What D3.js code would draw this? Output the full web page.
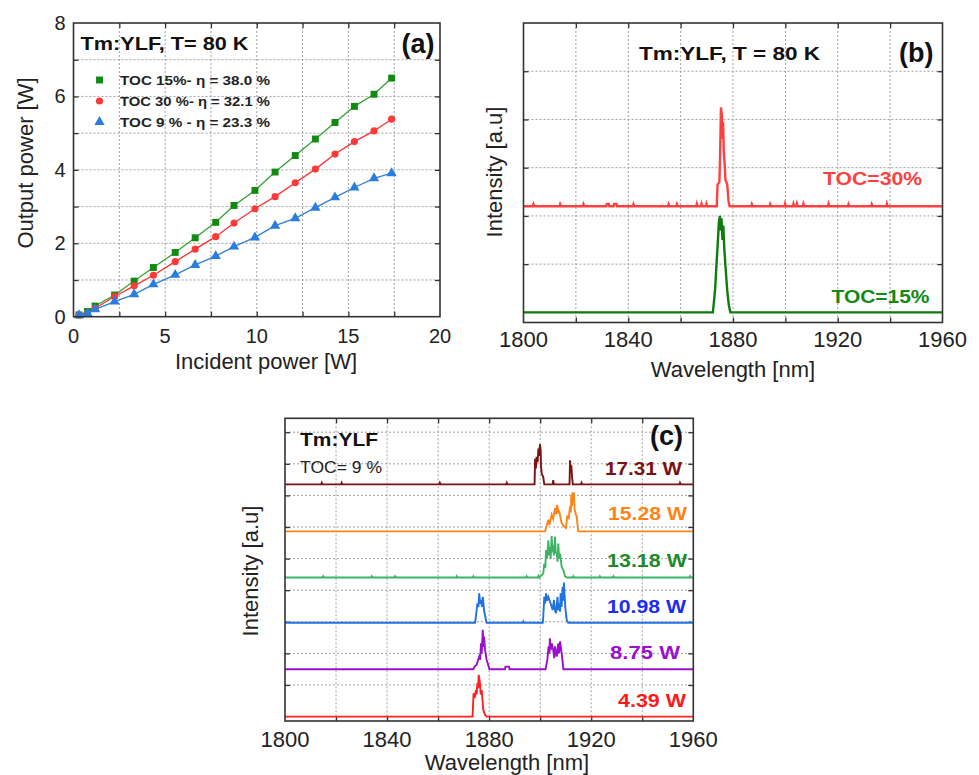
<!DOCTYPE html>
<html>
<head>
<meta charset="utf-8">
<script src="https://cdn.jsdelivr.net/npm/d3@7"></script>
<style>
  body { margin: 0; background: #fff; }
  svg text { font-family: "Liberation Sans", Arial, sans-serif; }
</style>
</head>
<body>
<svg id="fig" width="979" height="775"></svg>
<script>
// ---- panel (a): output power vs incident power
var incident = [0.3, 0.76, 1.18, 2.24, 3.31, 4.36, 5.55, 6.64, 7.76, 8.76, 9.9, 11.0, 12.1, 13.2, 14.27, 15.33, 16.4, 17.36];
var outToc15 = [0.05, 0.14, 0.29, 0.59, 0.97, 1.34, 1.75, 2.15, 2.57, 3.03, 3.44, 3.94, 4.39, 4.84, 5.29, 5.73, 6.06, 6.5];
var outToc30 = [0.04, 0.09, 0.23, 0.55, 0.84, 1.13, 1.5, 1.84, 2.18, 2.55, 2.94, 3.27, 3.65, 4.02, 4.43, 4.77, 5.06, 5.38];
var outToc9  = [0.04, 0.09, 0.2, 0.41, 0.61, 0.88, 1.14, 1.41, 1.65, 1.91, 2.16, 2.48, 2.68, 2.97, 3.25, 3.52, 3.77, 3.91];
var legendA = ["TOC  15%- \u03b7 = 38.0 %", "TOC  30 %- \u03b7 = 32.1 %", "TOC  9 % - \u03b7 = 23.3 %"];
var aXTicks = [0, 5, 10, 15, 20];
var aYTicks = [0, 2, 4, 6, 8];

// ---- panel (b): spectra at 80 K, [wavelength nm, intensity]
var bLabels = ["TOC=30%", "TOC=15%"];
var bOffsets = [2.2, 0];
var bToc30 = [[1800,0],[1803.6,0],[1803.8,0.04],[1804.1,0],[1813.8,0],[1814,0.04],[1814.3,0],[1822.7,0],[1822.9,0.04],[1823.2,0],
  [1831.6,0],[1831.8,0.05],[1832.6,0.05],[1832.8,0],[1834.4,0],[1834.6,0.05],[1835.5,0.05],[1835.7,0],[1841.8,0],[1842,0.04],[1842.3,0],
  [1855.2,0],[1855.4,0.04],[1855.7,0],[1858.4,0],[1858.6,0.04],[1858.9,0],[1866,0],[1866.2,0.05],[1866.5,0],[1867.8,0],[1868,0.05],[1868.3,0],
  [1869.7,0],[1869.9,0.05],[1870.2,0],[1873.8,0],[1874.1,0.45],[1874.8,0.5],[1875.1,1.1],[1875.4,2.05],[1875.7,1.9],[1875.9,1.4],
  [1876.2,1.75],[1876.5,1.1],[1876.8,0.9],[1877.1,0.55],[1877.8,0.45],[1878.3,0.1],[1878.7,0],[1887,0],[1887.2,0.04],[1887.5,0],
  [1894,0],[1894.2,0.04],[1894.5,0],[1899.7,0],[1899.9,0.05],[1900.2,0],[1902.9,0],[1903.1,0.05],[1903.4,0],[1904.2,0],[1904.4,0.05],[1904.7,0],
  [1906.7,0],[1906.9,0.05],[1907.2,0],[1916.3,0],[1916.5,0.05],[1916.8,0],[1923.9,0],[1924.1,0.04],[1924.4,0],[1932.8,0],[1933,0.04],[1933.3,0],
  [1938.6,0],[1938.8,0.05],[1939.1,0],[1960,0]];
var bToc15 = [[1800,0],[1872.3,0],[1872.6,0.15],[1873.2,0.5],[1873.7,1.0],[1874.2,1.45],[1874.6,1.85],[1875,2.0],[1875.3,1.7],
  [1875.6,1.95],[1876,1.5],[1876.3,1.8],[1876.7,1.3],[1877.2,0.9],[1877.8,0.45],[1878.4,0.15],[1879,0],[1960,0]];
var bXTicks = [1800, 1840, 1880, 1920, 1960];

// ---- panel (c): spectra at TOC 9 %, one per incident power
var cLabels = ["17.31 W", "15.28 W", "13.18 W", "10.98 W", "8.75 W", "4.39 W"];
var cOffsets = [7.35, 5.86, 4.4, 2.97, 1.5, 0];
var cP1731 = [[1800,0],[1814.2,0],[1814.4,0.05],[1814.7,0],[1822,0],[1822.2,0.05],[1822.5,0],[1860.5,0],[1860.7,0.05],[1861,0],
  [1886.7,0],[1886.9,0.05],[1887.2,0],[1897.8,0],[1898,0.81],[1898.3,0.5],[1898.6,0.87],[1899,0.7],[1899.3,1.13],[1899.6,0.9],
  [1899.9,1.27],[1900.2,1.08],[1900.3,0.6],[1900.6,0.34],[1901.2,0.23],[1901.6,0],[1904.9,0],[1905.1,0.13],[1905.4,0],
  [1911.5,0],[1911.7,0.76],[1912,0.4],[1912.2,0.6],[1912.5,0.2],[1912.8,0],
  [1916,0],[1916.2,0.05],[1916.5,0],[1954.6,0],[1954.8,0.05],[1955.1,0],[1960,0]];
var cP1528 = [[1800,0],[1901.9,0],[1902.5,0.16],[1903.2,0.37],[1903.6,0.2],[1904.5,0.53],[1905.1,0.4],[1905.8,0.74],[1906.2,0.55],
  [1906.7,0.84],[1907.1,0.6],[1907.5,0.63],[1908.4,0.26],[1909.3,0.16],[1910.1,0.11],[1910.6,0.47],[1911.2,0.42],[1911.7,0.79],
  [1912,0.6],[1912.2,1.16],[1912.5,0.8],[1912.7,1.21],[1913.2,1.21],[1913.5,0.7],[1913.8,0.58],[1914.3,0.47],[1914.9,0],[1960,0]];
var cP1318 = [[1800,0],[1814.8,0],[1815,0.04],[1815.3,0],[1833.8,0],[1834,0.04],[1834.3,0],[1842.9,0],[1843.1,0.04],[1843.4,0],
  [1867.1,0],[1867.3,0.04],[1867.6,0],[1873.6,0],[1873.8,0.04],[1874.1,0],[1894.5,0],[1894.7,0.04],[1895,0],[1899.1,0],[1899.3,0.05],[1899.6,0],
  [1901.2,0.13],[1901.6,0.44],[1902,0.3],[1902.3,0.87],[1902.7,0.6],[1903.2,1.18],[1903.5,0.7],[1903.8,0.97],[1904.1,0.6],[1904.5,1.31],
  [1904.8,0.8],[1905.1,1.02],[1905.4,0.7],[1905.8,1.29],[1906.1,0.8],[1906.5,0.76],[1906.8,0.5],[1907.1,1.08],[1907.4,0.6],
  [1907.8,0.76],[1908.4,0.34],[1909.1,0.23],[1909.7,0.04],[1910.4,0],[1912.8,0],[1913,0.04],[1913.3,0],[1923.2,0],[1923.4,0.04],
  [1923.7,0],[1928.5,0],[1928.7,0.04],[1929,0],[1958.5,0],[1958.7,0.04],[1959,0],[1960,0]];
var cP1098 = [[1800,0],[1874.5,0],[1874.8,0.19],[1875.4,0.61],[1875.8,0.5],[1876.1,0.93],[1876.5,0.6],[1876.8,0.72],[1877.2,0.5],
  [1877.5,0.82],[1878,0.4],[1878.5,0.19],[1879,0],[1893.2,0],[1893.4,0.04],[1893.7,0],[1901,0],[1901.2,0.19],[1901.6,0.82],
  [1901.9,0.6],[1902.3,0.93],[1902.7,0.7],[1903.2,0.82],[1904.1,0.61],[1904.9,0.4],[1905.4,0.72],[1905.8,0.4],[1906.2,0.3],
  [1906.8,0.82],[1907.1,0.4],[1907.5,0.61],[1907.8,0.35],[1908,0.93],[1908.4,0.5],[1908.8,1.14],[1909.1,0.7],[1909.3,1.27],
  [1909.8,0.51],[1910.4,0.08],[1911,0],[1960,0]];
var cP875 = [[1800,0],[1873.8,0],[1874.3,0.08],[1875.1,0.14],[1876.1,0.4],[1876.5,0.3],[1876.8,0.82],[1877.1,0.5],[1877.5,1.25],
  [1877.8,0.7],[1878,1.03],[1878.4,0.61],[1879,0.3],[1879.6,0.14],[1880.1,0],[1886.2,0],[1886.4,0.08],[1887.8,0.08],[1888,0],
  [1902.1,0],[1902.3,0.08],[1902.8,0.3],[1903.3,0.72],[1903.6,0.5],[1903.8,0.98],[1904.1,0.6],[1904.5,0.82],[1905.1,0.61],
  [1905.5,0.35],[1905.8,0.72],[1906.5,0.4],[1907.1,0.82],[1907.4,0.5],[1907.8,0.88],[1908.4,0.51],[1909.1,0],[1960,0]];
var cP439 = [[1800,0],[1873.5,0],[1873.9,0.74],[1874.4,0.6],[1874.8,0.84],[1875.1,0.7],[1875.4,1.06],[1875.7,0.9],[1875.9,1.32],
  [1876.4,1.06],[1876.7,0.7],[1877.1,0.84],[1877.7,0.21],[1878.4,0.05],[1879.1,0],[1960,0]];
var cSpectra = [cP1731, cP1528, cP1318, cP1098, cP875, cP439];
var cXTicks = [1800, 1840, 1880, 1920, 1960];

var svg = d3.select("#fig");
var gridColor = "#a0a0a0";

// frame with dotted grid and inward ticks on four sides
function frame(box, xDom, yDom, xGrid, yGrid) {
  var g = svg.append("g").attr("transform", "translate(" + box.x + "," + box.y + ")");
  var x = d3.scaleLinear().domain(xDom).range([0, box.w]);
  var y = d3.scaleLinear().domain(yDom).range([box.h, 0]);

  g.append("g").selectAll("line").data(xGrid).join("line")
    .attr("x1", d => x(d)).attr("x2", d => x(d)).attr("y1", 0).attr("y2", box.h)
    .attr("stroke", gridColor).attr("stroke-width", 1).attr("stroke-dasharray", "2,2");
  g.append("g").selectAll("line").data(yGrid).join("line")
    .attr("x1", 0).attr("x2", box.w).attr("y1", d => y(d)).attr("y2", d => y(d))
    .attr("stroke", gridColor).attr("stroke-width", 1).attr("stroke-dasharray", "2,2");

  var axes = [
    [d3.axisBottom(x).tickValues(xGrid), "translate(0," + box.h + ")"],
    [d3.axisTop(x).tickValues(xGrid), "translate(0,0)"],
    [d3.axisLeft(y).tickValues(yGrid), "translate(0,0)"],
    [d3.axisRight(y).tickValues(yGrid), "translate(" + box.w + ",0)"]
  ];
  axes.forEach(function (a) {
    var ag = g.append("g").attr("transform", a[1]).call(a[0].tickSize(-5).tickFormat(""));
    ag.select(".domain").remove();
    ag.selectAll(".tick line").attr("stroke", "#333").attr("stroke-width", 1.3);
  });

  var plot = g.append("g");
  g.append("rect").attr("width", box.w).attr("height", box.h)
    .attr("fill", "none").attr("stroke", "#333").attr("stroke-width", 1.6);
  return { g: g, plot: plot, x: x, y: y, box: box };
}

// text helper; len stretches the label to the width seen in the original
function text(g, x, y, s, size, opts) {
  opts = opts || {};
  var t = g.append("text").attr("x", x).attr("y", y).text(s)
    .attr("font-size", size).attr("fill", opts.fill || "#111")
    .attr("font-weight", opts.bold ? "bold" : "normal")
    .attr("text-anchor", opts.anchor || "start");
  if (opts.len) t.attr("textLength", opts.len).attr("lengthAdjust", "spacingAndGlyphs");
  if (opts.rotate) t.attr("transform", "rotate(-90," + x + "," + y + ")");
  return t;
}

function xLabels(p, ticks, size, dy) {
  ticks.forEach(function (v) {
    text(p.g, p.x(v), p.box.h + dy, String(v), size, { anchor: "middle", fill: "#222" });
  });
}

// ================= panel (a)
var A = frame({ x: 73.5, y: 23, w: 366.5, h: 293.7 }, [0, 20], [0, 8],
  d3.range(2.5, 20, 2.5), d3.range(1, 8, 1));
xLabels(A, aXTicks, 20, 26);
aYTicks.forEach(function (v) {
  text(A.g, -8, A.y(v) + 7, String(v), 20, { anchor: "end", fill: "#222" });
});
text(svg, 266, 369, "Incident power [W]", 22, { anchor: "middle", fill: "#222" });
text(svg, 33, 163, "Output power [W]", 22, { anchor: "middle", fill: "#222", rotate: true });
text(A.g, 7, 27, "Tm:YLF, T= 80 K", 19, { bold: true, len: 168 });
text(A.g, 361, 30, "(a)", 27, { bold: true, anchor: "end" });

var aSeries = [
  { vals: outToc15, color: "#128a12", line: "#2ea42e", sym: d3.symbolSquare, size: 48 },
  { vals: outToc30, color: "#ff3838", line: "#ff3030", sym: d3.symbolCircle, size: 40 },
  { vals: outToc9, color: "#2a7de0", line: "#2f80dc", sym: d3.symbolTriangle, size: 46 }
];
var aLine = d3.line().x(d => A.x(d[0])).y(d => A.y(d[1]));
aSeries.forEach(function (s, i) {
  var pts = incident.map((v, j) => [v, s.vals[j]]);
  A.plot.append("path").datum(pts).attr("d", aLine)
    .attr("fill", "none").attr("stroke", s.line).attr("stroke-width", 1.3);
  A.plot.selectAll(null).data(pts).join("path")
    .attr("transform", d => "translate(" + A.x(d[0]) + "," + A.y(d[1]) + ")")
    .attr("d", d3.symbol(s.sym, s.size)).attr("fill", s.color);
  // legend
  A.g.append("path").attr("transform", "translate(26," + (57 + i * 21) + ")")
    .attr("d", d3.symbol(s.sym, s.size)).attr("fill", s.color);
  text(A.g, 46.5, 62 + i * 21, legendA[i], 13.5, { bold: true, fill: "#222", len: 150 });
});

// ================= panel (b)
var B = frame({ x: 523.5, y: 23, w: 419, h: 299.5 }, [1800, 1960], [-0.21, 6],
  d3.range(1820, 1960, 20), d3.range(1, 6, 1));
xLabels(B, bXTicks, 22, 24);
text(svg, 733, 377, "Wavelength [nm]", 22, { anchor: "middle", fill: "#222" });
text(svg, 502, 172, "Intensity [a.u]", 22, { anchor: "middle", fill: "#222", rotate: true });
text(B.g, 115.5, 37, "Tm:YLF, T = 80 K", 19, { bold: true, len: 181 });
text(B.g, 410, 39, "(b)", 27, { bold: true, anchor: "end" });

var bColors = ["#ff4040", "#0c7c0c"];
[bToc30, bToc15].forEach(function (sp, i) {
  var line = d3.line().x(d => B.x(d[0])).y(d => B.y(d[1] + bOffsets[i]));
  B.plot.append("path").datum(sp).attr("d", line)
    .attr("fill", "none").attr("stroke", bColors[i]).attr("stroke-width", 2.4);
});
text(B.g, 299.5, 162, bLabels[0], 19, { bold: true, fill: bColors[0], len: 99 });
text(B.g, 308, 280, bLabels[1], 19, { bold: true, fill: "#138a13", len: 98 });

// ================= panel (c)
var C = frame({ x: 285, y: 418.3, w: 408.3, h: 302.7 }, [1800, 1960], [-0.14, 9.44],
  d3.range(1820, 1960, 20), d3.range(1, 10, 1));
xLabels(C, cXTicks, 22, 26);
text(svg, 507, 770, "Wavelength [nm]", 22, { anchor: "middle", fill: "#222" });
text(svg, 258, 571, "Intensity [a.u]", 22, { anchor: "middle", fill: "#222", rotate: true });
text(C.g, 15, 28, "Tm:YLF", 19, { bold: true, len: 78 });
text(C.g, 15, 55, "TOC= 9 %", 16, { fill: "#222", len: 82 });
text(C.g, 398, 27, "(c)", 27, { bold: true, anchor: "end" });

var cLineColors = ["#7b1212", "#ff8418", "#3cb464", "#2272e0", "#9b10cc", "#ff2020"];
var cTextColors = ["#7b1212", "#ff8418", "#1f8a2a", "#1b2df0", "#9b10cc", "#ff1818"];
var cLabelX = [605, 608, 607, 607, 610, 618];
var cLabelW = [77, 79, 80, 79, 70, 68];
var cLabelY = [468, 513, 560, 606, 652, 700];
cSpectra.forEach(function (sp, i) {
  var line = d3.line().x(d => C.x(d[0])).y(d => C.y(d[1] + cOffsets[i]));
  C.plot.append("path").datum(sp).attr("d", line)
    .attr("fill", "none").attr("stroke", cLineColors[i]).attr("stroke-width", 1.9);
  text(svg, cLabelX[i], cLabelY[i] + 7, cLabels[i], 19,
    { bold: true, fill: cTextColors[i], len: cLabelW[i] });
});
</script>
</body>
</html>
